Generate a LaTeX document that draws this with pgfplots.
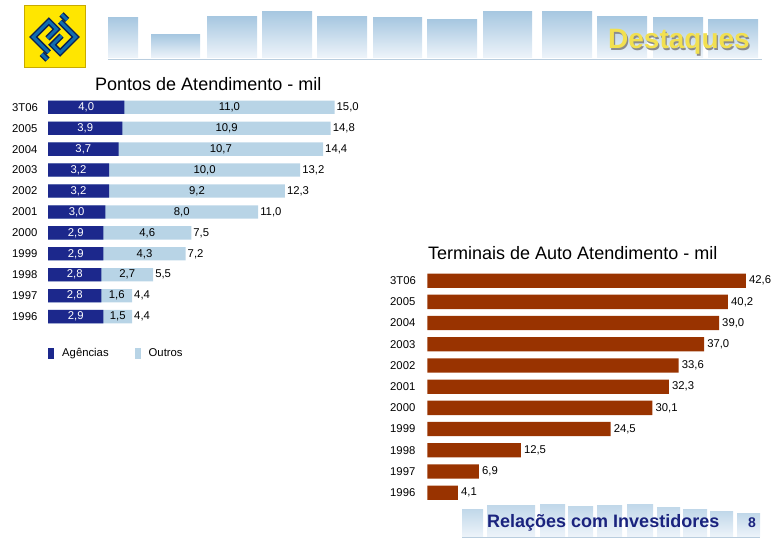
\documentclass[border=0pt]{standalone}
\usepackage{fontspec}
\setmainfont{Liberation Sans}
\usepackage{pgfplots}
\usepackage{pgfplotstable}
\pgfplotsset{compat=1.18}

\definecolor{agcol}{RGB}{28,40,140}
\definecolor{oucol}{RGB}{184,212,230}
\definecolor{taacol}{RGB}{153,51,0}
\definecolor{navy}{RGB}{26,35,126}
\definecolor{hdtop}{RGB}{168,200,225}
\definecolor{hdbot}{RGB}{238,244,250}
\definecolor{logoy}{RGB}{255,230,0}
\definecolor{logob}{RGB}{20,60,150}

\newcommand\tk{\fontsize{11.3}{13}\selectfont}

% Pontos de Atendimento (mil): agencias, outros, total
\pgfplotstableread{
row ag ou tot
0 4.0 11.0 15.0
1 3.9 10.9 14.8
2 3.7 10.7 14.4
3 3.2 10.0 13.2
4 3.2 9.2 12.3
5 3.0 8.0 11.0
6 2.9 4.6 7.5
7 2.9 4.3 7.2
8 2.8 2.7 5.5
9 2.8 1.6 4.4
10 2.9 1.5 4.4
}\pontos

% Terminais de Auto Atendimento (mil)
\pgfplotstableread{
row val
0 42.6
1 40.2
2 39.0
3 37.0
4 33.6
5 32.3
6 30.1
7 24.5
8 12.5
9 6.9
10 4.1
}\taa

\pgfplotsset{
  sqlegend/.style={legend image code/.code={\fill[##1] (0pt,-5.5pt) rectangle (6pt,5.5pt);}},
  bbchart/.style={
    scale only axis, clip=false, y dir=reverse,
    ymin=-0.5, ymax=10.5, xmin=0,
    axis line style={draw=none}, tick style={draw=none},
    xtick=\empty, ytick={0,...,10},
    yticklabel style={anchor=west, inner sep=0pt, font=\tk},
    /pgf/number format/use comma,
    /pgf/number format/fixed,
    /pgf/number format/fixed zerofill,
    /pgf/number format/precision=1,
    /pgf/number format/assume math mode=true,
    every node near coord/.append style={font=\tk, text=black},
  },
}

\begin{document}
\begin{tikzpicture}
\path[use as bounding box] (0,0) rectangle (780pt,540pt);

% cabecalho
\begin{scope}[x=1pt,y=1pt]
  \foreach \a/\b/\t in {108/138/18, 151/200/35, 207/257/17, 262/312/12, 317/367/17, 373/422/18,
                        427/477/20, 483/532/12, 542/592/12, 597/647/17, 653/703/18, 708/758/20}
    \shade[top color=hdtop, bottom color=hdbot] (\a,540-\t) rectangle (\b,482);
  \draw[color={rgb,255:red,185;green,205;blue,222}, line width=0.8pt] (108,481) -- (762,481);
  \node[anchor=base west, inner sep=0pt, text=black!45, font=\fontsize{28}{30}\selectfont\bfseries] at (609.2,489.8) {Destaques};
  \node[anchor=base west, inner sep=0pt, text={rgb,255:red,242;green,224;blue,80}, font=\fontsize{28}{30}\selectfont\bfseries] at (608,491) {Destaques};
  % logo
  \fill[logoy] (24,472) rectangle (85,534);
  \draw[color={rgb,255:red,200;green,170;blue,0}, line width=1pt] (24,472) rectangle (85,534);
  \begin{scope}[shift={(54.5,503)}, rotate=45]
    \foreach \w/\c in {6pt/logob!55!black, 3pt/logob!75!cyan} {
      \draw[line width=\w, \c, line join=miter] (-15,-7) -- (-15,15) -- (7,15) -- (7,4) -- (-6,4);
      \draw[line width=\w, \c, line join=miter] (15,7) -- (15,-15) -- (-7,-15) -- (-7,-4) -- (6,-4);
      \draw[line width=\w, \c] (21,3) -- (21,11);
      \draw[line width=\w, \c] (-21,-3) -- (-21,-11);
    }
  \end{scope}
  % titulos
  \node[anchor=base west, inner sep=0pt, font=\fontsize{18}{20}\selectfont] at (95,449) {Pontos de Atendimento - mil};
  \node[anchor=base west, inner sep=0pt, font=\fontsize{18}{20}\selectfont] at (428,280) {Terminais de Auto Atendimento - mil};
  % rodape
  \foreach \a/\b/\t in {462/483/510, 487/535/506, 540/565/505, 568/593/507, 597/622/506,
                        627/653/505, 657/680/508, 683/707/510, 710/733/512, 737/760/514}
    \shade[top color=hdtop!70!white, bottom color=hdbot] (\a,540-\t) rectangle (\b,3);
  \draw[color={rgb,255:red,185;green,205;blue,222}, line width=0.8pt] (462,3) -- (760,3);
  \node[anchor=base west, inner sep=0pt, text=navy, font=\fontsize{18}{20}\selectfont\bfseries] at (487,12) {Relações com Investidores};
  \node[anchor=base west, inner sep=0pt, text=navy, font=\fontsize{14}{16}\selectfont\bfseries] at (748,12) {8};
\end{scope}

% Pontos de Atendimento
\begin{axis}[bbchart, at={(48pt,212.9pt)}, anchor=south west,
  width=305.6pt, height=230.3pt, xmax=16,
  yticklabels={3T06,2005,2004,2003,2002,2001,2000,1999,1998,1997,1996},
  yticklabel style={xshift=-36pt},
  legend style={draw=none, fill=none, at={(0,-0.113)}, anchor=west,
    legend columns=2, font=\tk, inner sep=0pt,
    /tikz/every odd column/.append style={column sep=6pt},
    /tikz/every even column/.append style={column sep=24pt}},
  reverse legend]
\addplot[xbar, bar shift=0pt, bar width=13.3pt, fill=oucol, draw=none, sqlegend,
  nodes near coords, point meta=\thisrow{tot},
  every node near coord/.append style={anchor=west, inner sep=2pt}]
  table[x expr=\thisrow{ag}+\thisrow{ou}, y=row]{\pontos};
\addlegendentry{Outros}
\addplot[xbar, bar shift=0pt, bar width=13.3pt, fill=agcol, draw=none, sqlegend]
  table[x=ag, y=row]{\pontos};
\addlegendentry{Agências}
\addplot[draw=none, mark=none, forget plot, nodes near coords, point meta=\thisrow{ag},
  every node near coord/.append style={anchor=center, text=white}]
  table[x expr=\thisrow{ag}/2, y=row]{\pontos};
\addplot[draw=none, mark=none, forget plot, nodes near coords, point meta=\thisrow{ou},
  every node near coord/.append style={anchor=center}]
  table[x expr=\thisrow{ag}+\thisrow{ou}/2, y=row]{\pontos};
\end{axis}

% Terminais de Auto Atendimento
\begin{axis}[bbchart, at={(427.3pt,36.7pt)}, anchor=south west,
  width=336.6pt, height=233.2pt, xmax=45,
  yticklabels={3T06,2005,2004,2003,2002,2001,2000,1999,1998,1997,1996},
  yticklabel style={xshift=-37.3pt}]
\addplot[xbar, bar shift=0pt, bar width=14.3pt, fill=taacol, draw=none,
  nodes near coords, point meta=x,
  every node near coord/.append style={anchor=west, inner sep=3pt}]
  table[x=val, y=row]{\taa};
\end{axis}
\end{tikzpicture}
\end{document}
